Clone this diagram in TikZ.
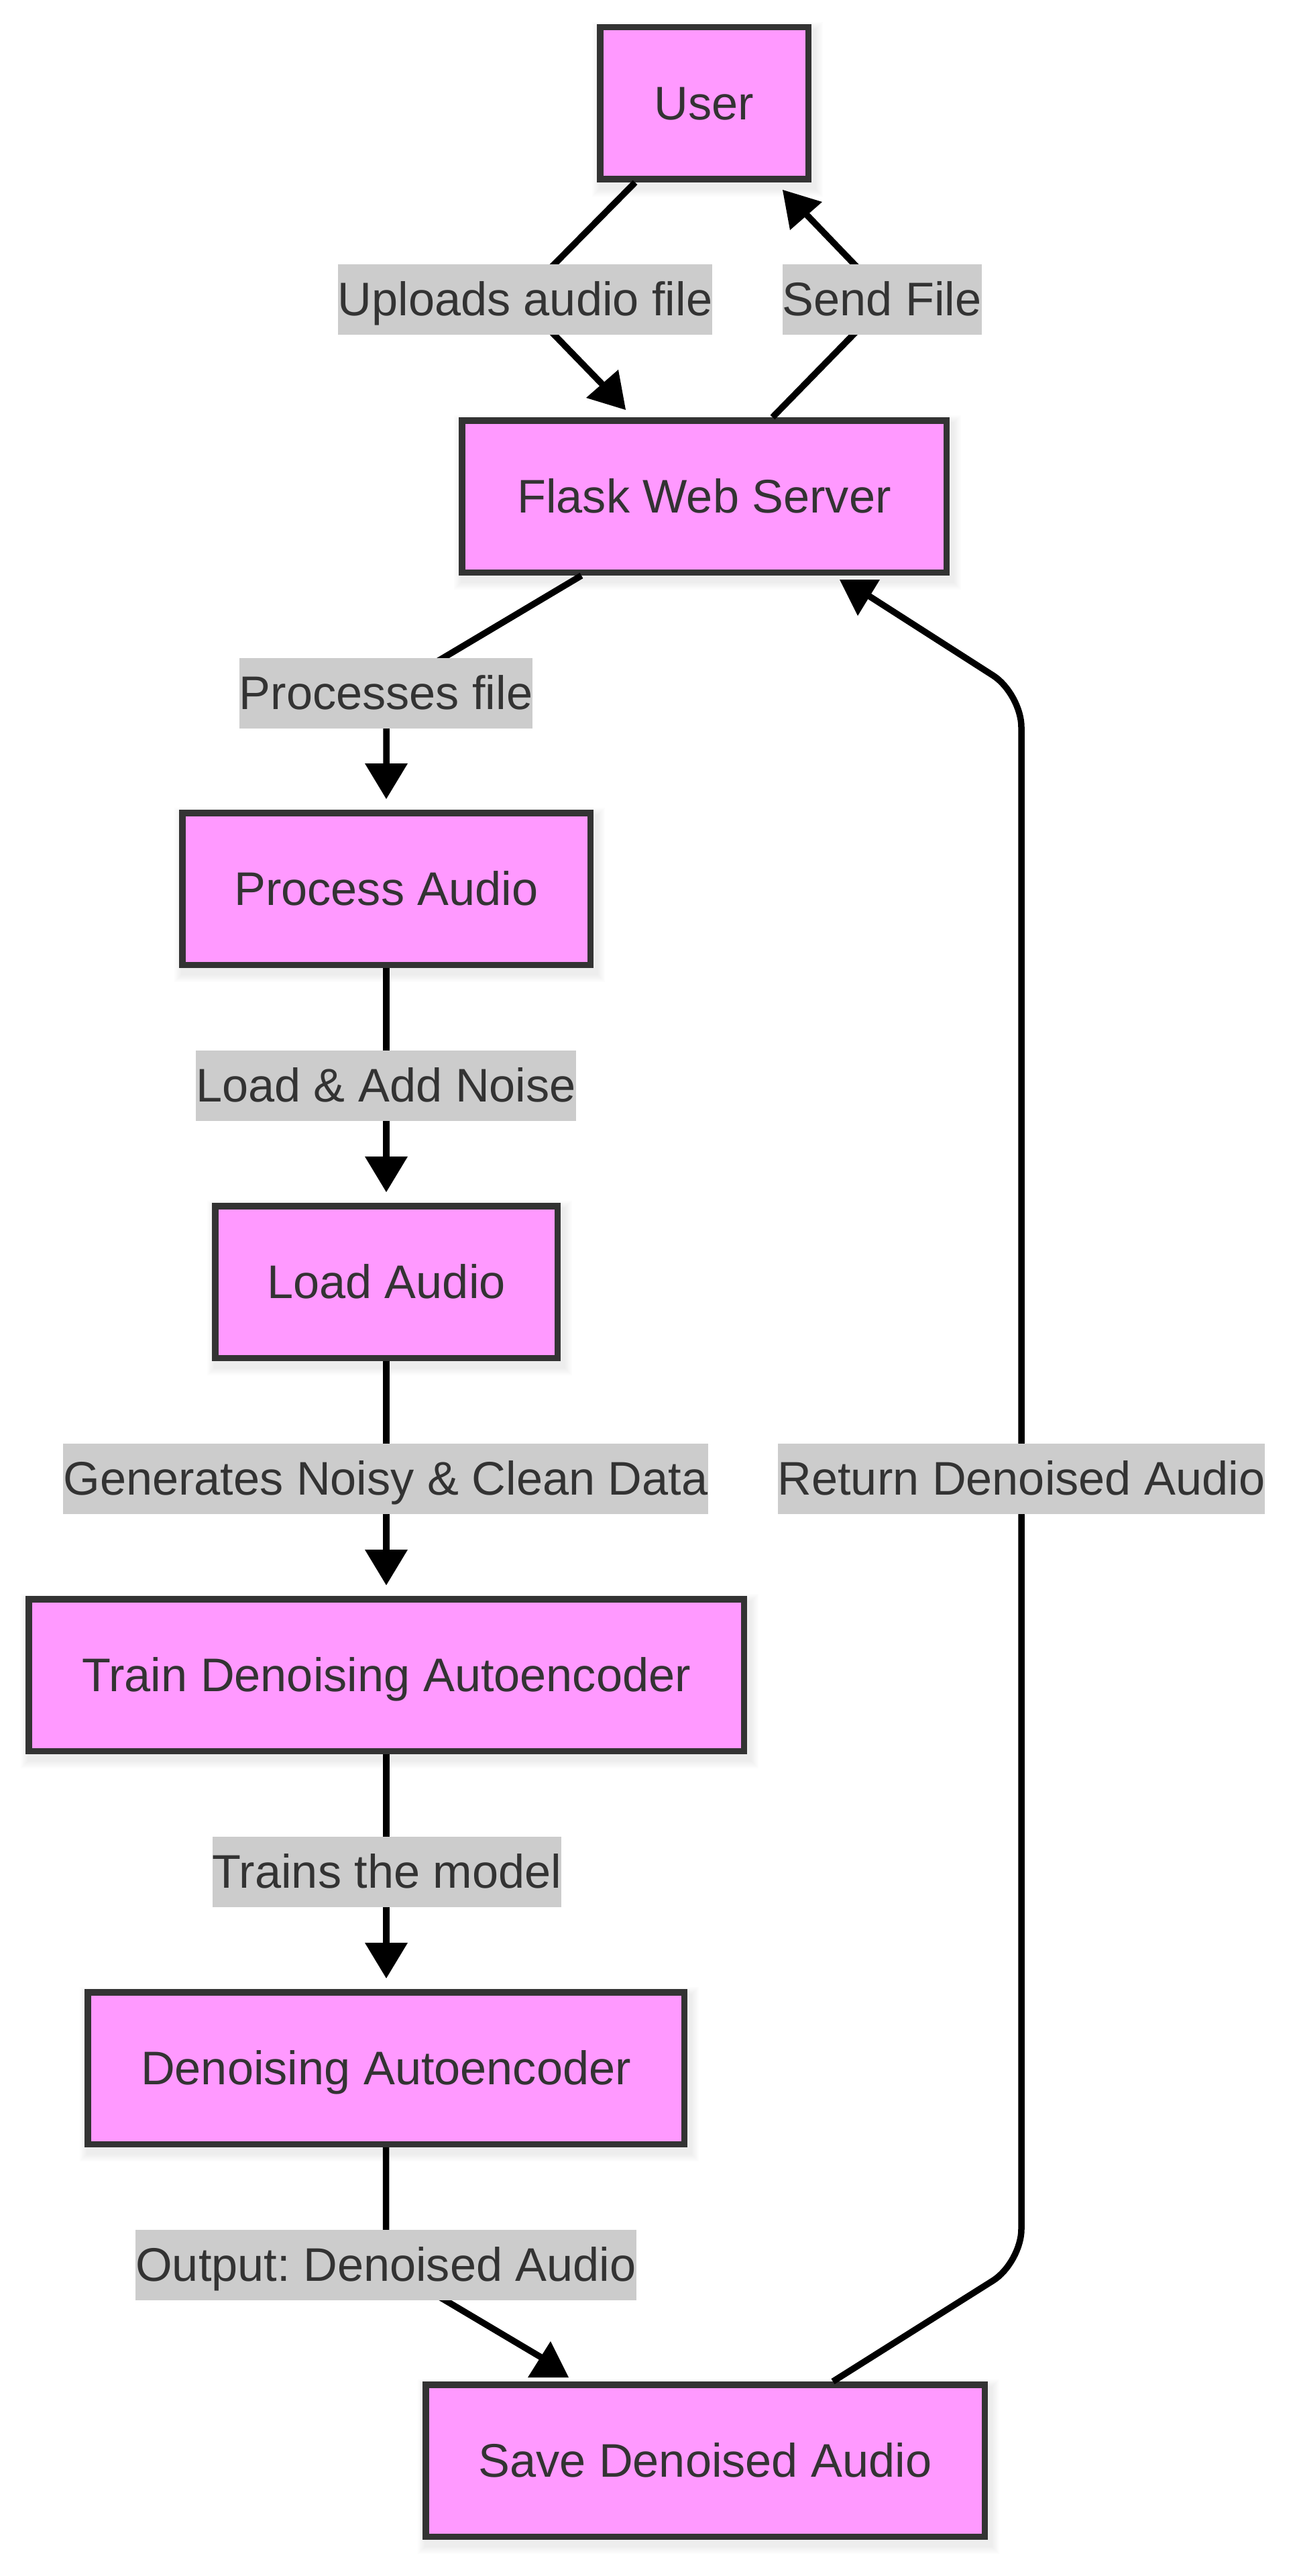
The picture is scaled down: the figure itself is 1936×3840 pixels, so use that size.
\documentclass[tikz,border=0pt]{standalone}
\usepackage{fontspec}
\setmainfont{Liberation Sans}
\frenchspacing
\usetikzlibrary{arrows.meta,backgrounds}
\definecolor{boxfill}{HTML}{FF99FF}
\definecolor{boxline}{HTML}{333333}
\definecolor{lblbg}{HTML}{CCCCCC}
\definecolor{txtc}{HTML}{333333}
\newcommand{\dgfont}{\fontsize{70.3}{84}\selectfont}
\tikzset{
  box/.style={draw=boxline, fill=boxfill, line width=9.5pt, inner sep=0pt,
    minimum height=226.5pt, text=txtc, font=\dgfont, text height=63.6pt, text depth=14.9pt},
  lbl/.style={fill=lblbg, inner sep=0pt, minimum height=105pt, text=txtc,
    font=\dgfont, text height=63.6pt, text depth=14.9pt},
  edge/.style={draw=black, line width=9.5pt},
  vtip/.style={-{Triangle[length=53pt,width=64pt,line width=0pt]}},
  head/.style={fill=black},
}
\begin{document}
\begin{tikzpicture}[x=1pt,y=-1pt]
\useasboundingbox (0,0) rectangle (1936,3840);
% boxes
\node[box, minimum width=310.5pt] (user)  at (1050,154)   {User};
\node[box, minimum width=722.5pt] (flask) at (1050,740)   {Flask Web Server};
\node[box, minimum width=608.5pt] (proc)  at (576,1325)   {Process Audio};
\node[box, minimum width=510.5pt] (load)  at (576,1911)   {Load Audio};
\node[box, minimum width=1066.5pt] (train) at (576,2497)  {Train Denoising Autoencoder};
\node[box, minimum width=889.5pt] (dae)   at (575.5,3083) {Denoising Autoencoder};
\node[box, minimum width=833.5pt] (save)  at (1051.5,3668) {Save Denoised Audio};
% connectors
\draw[edge] ([xshift=-103pt]user.south) -- (775,446) -- (905,580);
\fill[head] (874,593) -- (922,551) -- (933,611) -- cycle;
\draw[edge] ([xshift=102pt]flask.north) -- (1324,446) -- (1195,312);
\fill[head] (1167,283) -- (1226,301) -- (1178,343) -- cycle;
\draw[edge,vtip] ([xshift=-183pt]flask.south) -- (610,1011) -- (576,1050) -- (576,1191);
\draw[edge,vtip] (proc.south) -- (576,1777);
\draw[edge,vtip] (load.south) -- (576,2363);
\draw[edge,vtip] (train.south) -- (576,2949);
\draw[edge] (dae.south) -- (575.5,3370) -- (615,3400) -- (812,3517);
\fill[head] (787,3544) -- (848,3544) -- (821,3490) -- cycle;
\draw[edge, rounded corners=50pt] ([xshift=190.5pt]save.north) -- (1523,3373) -- (1523,1034) -- (1292,886);
\fill[head] (1252,864) -- (1312,864) -- (1279,918) -- cycle;
% edge labels
\node[lbl] (l1) at (783,446.5)    {Uploads audio file};
\node[lbl] (l2) at (1315,446.5)   {Send File};
\node[lbl] (l3) at (575.5,1033)   {Processes file};
\node[lbl] (l4) at (575.5,1618.5) {Load \& Add Noise};
\node[lbl] (l5) at (575,2204.5)   {Generates Noisy \& Clean Data};
\node[lbl] (l6) at (1523,2204.5)  {Return Denoised Audio};
\node[lbl] (l7) at (577,2790.5)   {Trains the model};
\node[lbl] (l8) at (575.5,3376.5) {Output: Denoised Audio};
% background and soft shadows
\begin{scope}[on background layer]
\fill[white] (0,0) rectangle (1936,3840);
\foreach \n in {user,flask,proc,load,train,dae,save}{
  \foreach \r in {2,4,6,8,10,12}{
    \fill[black,opacity=0.012] ([shift={(-\r+5,-\r+9)}]\n.north west) rectangle ([shift={(\r+5,\r+9)}]\n.south east);
  }
}
\end{scope}
\end{tikzpicture}
\end{document}
